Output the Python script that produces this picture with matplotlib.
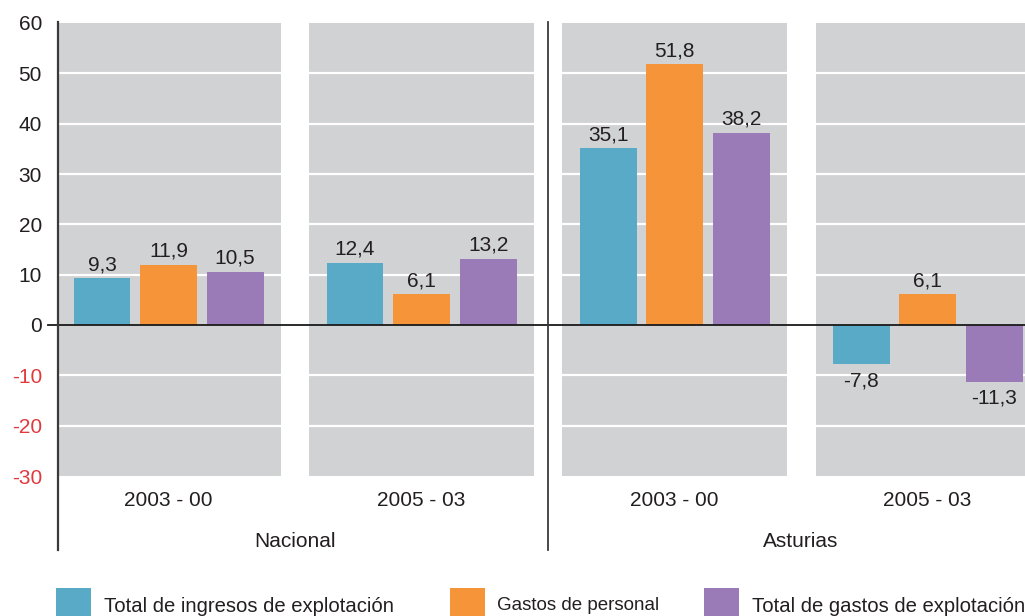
import matplotlib
matplotlib.use("Agg")
import matplotlib.pyplot as plt
from matplotlib.patches import Rectangle

plt.rcParams["font.family"] = ["Liberation Sans", "DejaVu Sans"]
plt.rcParams["axes.unicode_minus"] = False

# Data
regions = ["Nacional", "Asturias"]
periods = ["2003 - 00", "2005 - 03", "2003 - 00", "2005 - 03"]
series_names = ["Total de ingresos de explotación", "Gastos de personal",
                "Total de gastos de explotación"]
ingresos = [9.3, 12.4, 35.1, -7.8]
personal = [11.9, 6.1, 51.8, 6.1]
gastos = [10.5, 13.2, 38.2, -11.3]
y_ticks = [60, 50, 40, 30, 20, 10, 0, -10, -20, -30]

colors = ["#59aac6", "#f59439", "#9a7bb8"]
panel_color = "#d1d2d4"
neg_color = "#e03a3e"
text_color = "#231f20"
FS = 15

W, H = 1025, 616
fig = plt.figure(figsize=(W / 100, H / 100), dpi=100)
ax = fig.add_axes([58 / W, 1 - 476 / H, (W - 58) / W, (476 - 23) / H])

ax.set_xlim(-0.437, 3.385)
ax.set_ylim(-30, 60)

# gray background panels, one per period
panel_half = 0.443
for i in range(len(periods)):
    ax.add_patch(Rectangle((i - panel_half, -30), 2 * panel_half, 90,
                           facecolor=panel_color, edgecolor="none", zorder=0))

# white grid lines over the panels
for t in y_ticks:
    if t not in (0, -30, 60):
        ax.axhline(t, color="white", lw=1.6, zorder=1)

# bars
offset, width = 0.263, 0.225
series = [ingresos, personal, gastos]
for k, vals in enumerate(series):
    xs = [i + (k - 1) * offset for i in range(len(vals))]
    ax.bar(xs, vals, width=width, color=colors[k], zorder=2,
           label=series_names[k])
    for x, v in zip(xs, vals):
        txt = f"{v:.1f}".replace(".", ",")
        if v >= 0:
            ax.annotate(txt, (x, v), xytext=(0, 3), textcoords="offset points",
                        ha="center", va="bottom", fontsize=FS, color=text_color)
        else:
            ax.annotate(txt, (x, v), xytext=(0, -5), textcoords="offset points",
                        ha="center", va="top", fontsize=FS, color=text_color)

# zero line with a short tick to the left
ax.axhline(0, xmin=-10 / 967, xmax=1, color="#1a1a1a", lw=1.3, zorder=3,
           clip_on=False)

# axes styling
for s in ax.spines.values():
    s.set_visible(False)
ax.set_xticks([])
ax.set_yticks(y_ticks)
ax.tick_params(axis="y", length=0, pad=11.5, labelsize=FS)
for lbl, t in zip(ax.get_yticklabels(), y_ticks):
    lbl.set_color(neg_color if t < 0 else text_color)

trans = ax.get_xaxis_transform()
# vertical axis line and region separator, running down past the labels
ax.plot([ax.get_xlim()[0]] * 2, [-0.163, 1.002], transform=trans,
        color="#3a3a3a", lw=1.6, clip_on=False, zorder=4)
ax.plot([1.5, 1.5], [-0.163, 1.002], transform=trans,
        color="#3a3a3a", lw=1.3, clip_on=False, zorder=4)

# period and region labels
for i, p in enumerate(periods):
    ax.text(i, -0.055, p, transform=trans, ha="center", va="center",
            fontsize=FS, color=text_color)
for j, r in enumerate(regions):
    ax.text(2 * j + 0.5, -0.145, r, transform=trans, ha="center", va="center",
            fontsize=FS, color=text_color)

# legend drawn along the bottom edge
legend_items = [(56, 91, 104), (450, 485, 497), (704, 739, 752)]
for (x0, x1, tx), name, c in zip(legend_items, series_names, colors):
    fig.patches.append(Rectangle((x0 / W, 0), (x1 - x0) / W, (H - 588) / H,
                                 transform=fig.transFigure, facecolor=c,
                                 edgecolor="none"))
    fs = 13.5 if name == "Gastos de personal" else 14.6
    fig.text(tx / W, 1 - 606 / H, name, ha="left", va="center", fontsize=fs,
             color=text_color)

fig.savefig("out.png", dpi=100)
